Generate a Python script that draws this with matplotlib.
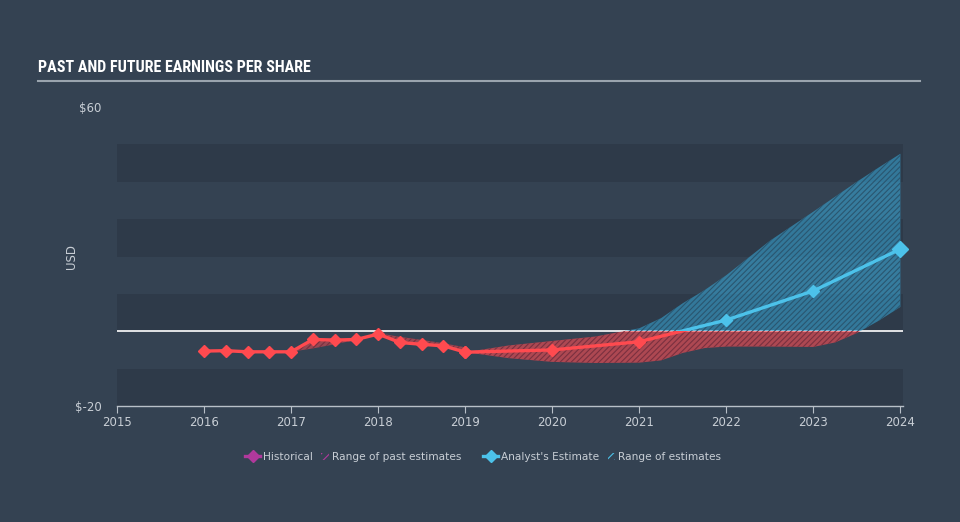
import numpy as np
import matplotlib
matplotlib.use("Agg")
import matplotlib.pyplot as plt
from matplotlib import font_manager
from matplotlib.font_manager import FontProperties
from matplotlib.legend_handler import HandlerPatch
from matplotlib.lines import Line2D
from matplotlib.patches import Patch, Rectangle

# ---------------------------------------------------------------------------
# Data
# ---------------------------------------------------------------------------
hist_x = [2016.0, 2016.25, 2016.5, 2016.75, 2017.0, 2017.25, 2017.5,
          2017.75, 2018.0, 2018.25, 2018.5, 2018.75, 2019.0]
hist_eps = [-5.3, -5.2, -5.5, -5.5, -5.5, -2.2, -2.35,
            -2.2, -0.75, -3.0, -3.5, -3.9, -5.6]

past_rng_x = [2017.0, 2017.25, 2017.5, 2017.75, 2018.0, 2018.25, 2018.5, 2018.75, 2019.0]
past_rng_lo = [-5.5, -4.6, -3.5, -2.3, -0.75, -3.0, -3.5, -3.9, -5.6]
past_rng_hi = [-5.5, -2.2, -2.35, -2.0, -0.5, -1.5, -2.3, -3.2, -4.3]

est_x = [2019.0, 2020.0, 2021.0, 2022.0, 2023.0, 2024.0]
est_eps = [-5.6, -5.0, -2.8, 3.0, 10.8, 22.0]

rng_x = [2019.0, 2019.5, 2020.0, 2020.5, 2021.0, 2021.25, 2021.5, 2021.75,
         2022.0, 2022.5, 2023.0, 2023.25, 2023.5, 2023.75, 2024.0]
rng_lo = [-5.6, -7.2, -8.2, -8.5, -8.4, -7.8, -5.8, -4.5,
          -4.1, -4.1, -4.2, -3.0, -0.5, 2.8, 6.5]
rng_hi = [-5.6, -3.8, -2.6, -1.4, 0.8, 3.5, 7.5, 11.0,
          15.0, 24.2, 32.0, 36.0, 40.0, 43.8, 47.5]

x_ticks = list(range(2015, 2025))
y_ticks = [-20, 60]
y_labels = ["\\$-20", "\\$60"]
bands = [(-20, -10), (0, 10), (20, 30), (40, 50)]

# ---------------------------------------------------------------------------
# Style
# ---------------------------------------------------------------------------
BG = "#344252"
BAND = "#2e3a49"
RED = "#ff4a4f"
BLUE = "#4cc2ea"
MAGENTA = "#b0399c"
TXT = "#c8ced5"


def pick_title_font():
    """Find a condensed bold face if one is installed."""
    tries = [("Liberation Sans Narrow", "normal"), ("Roboto Condensed", "normal"),
             ("DejaVu Sans", "condensed"), ("Open Sans Condensed", "normal")]
    for fam, stretch in tries:
        fp = FontProperties(family=fam, weight="bold", stretch=stretch)
        try:
            path = font_manager.findfont(fp, fallback_to_default=False)
        except Exception:
            continue
        name = path.lower()
        if "narrow" in name or "condensed" in name:
            return FontProperties(fname=path)
    return FontProperties(family="DejaVu Sans", weight="bold")


plt.rcParams["hatch.linewidth"] = 0.8

fig = plt.figure(figsize=(9.6, 5.22), dpi=100, facecolor=BG)
ax = fig.add_axes([117 / 960, 1 - 406 / 522, (903 - 117) / 960, (406 - 107) / 522])
ax.set_facecolor(BG)
ax.set_xlim(2015, 2024.03)
ax.set_ylim(-20, 60)

for lo, hi in bands:
    ax.axhspan(lo, hi, color=BAND, lw=0, zorder=0)

ax.axhline(0, color="white", lw=1.2, zorder=2)

# clip rectangles: above / below zero
above = Rectangle((2000, 0), 50, 100, transform=ax.transData)
below = Rectangle((2000, -100), 50, 100, transform=ax.transData)

# range of past estimates
ax.fill_between(past_rng_x, past_rng_lo, past_rng_hi, facecolor=(1.0, 0.3, 0.32, 0.5),
                edgecolor="#7a3040", hatch="//////", lw=0, zorder=3)

# range of future estimates, coloured by sign
fb = ax.fill_between(rng_x, rng_lo, rng_hi, facecolor=(0.22, 0.64, 0.82, 0.6),
                     edgecolor="#2a5670", hatch="//////", lw=0, zorder=3)
fb.set_clip_path(above)
fr = ax.fill_between(rng_x, rng_lo, rng_hi, facecolor=(1.0, 0.3, 0.32, 0.6),
                     edgecolor="#7a3040", hatch="//////", lw=0, zorder=3)
fr.set_clip_path(below)

# historical line
ax.plot(hist_x, hist_eps, color=RED, lw=2.4, marker="D", ms=6.5, zorder=5)

# analyst estimate, red below zero and blue above
lb, = ax.plot(est_x, est_eps, color=BLUE, lw=2.4, marker="D", ms=6.5, zorder=5)
lb.set_clip_path(above)
lr, = ax.plot(est_x, est_eps, color=RED, lw=2.4, marker="D", ms=6.5, zorder=5)
lr.set_clip_path(below)
ax.plot(est_x[-1:], est_eps[-1:], color=BLUE, marker="D", ms=8.5, lw=0, zorder=6,
        clip_on=False)

# axes cosmetics
for s in ["top", "right", "left"]:
    ax.spines[s].set_visible(False)
ax.spines["bottom"].set_color("#b8c0c8")
ax.spines["bottom"].set_linewidth(1)
ax.set_xticks(x_ticks)
ax.set_xticklabels([str(t) for t in x_ticks])
ax.tick_params(axis="x", colors="#b8c0c8", labelcolor=TXT, labelsize=8.5, length=5, pad=2)
ax.set_yticks(y_ticks)
ax.set_yticklabels(y_labels)
ax.tick_params(axis="y", length=0, labelcolor=TXT, labelsize=8.5, pad=11)
ax.set_ylabel("USD", color=TXT, fontsize=8.5)
ax.yaxis.set_label_coords((78 - 117) / 786, 0.5)

# title and rule
tfp = pick_title_font()
title = fig.text(38 / 960, 1 - 68 / 522, "PAST AND FUTURE EARNINGS PER SHARE",
                 fontproperties=tfp, fontsize=11.5, color="white", va="center", ha="left")
fig.canvas.draw()
tw = title.get_window_extent().width
if tw > 290:
    title.set_fontsize(11.5 * 280 / tw)
fig.add_artist(Line2D([38 / 960, 920 / 960], [1 - 81 / 522, 1 - 81 / 522],
                      transform=fig.transFigure, color="#9aa4ae", lw=1.5))


# legend: small hatched squares drawn at the right end of their key box
def small_square(legend, orig_handle, xdescent, ydescent, width, height, fontsize):
    s = height * 1.0
    return Rectangle((width - s - xdescent, -ydescent), s, s)


hmap = {Patch: HandlerPatch(patch_func=small_square)}
leg_kw = dict(loc="center left", ncol=2, frameon=False, fontsize=7.6, handlelength=1.45,
              handletextpad=0.3, columnspacing=0.0, borderpad=0, borderaxespad=0,
              labelcolor=TXT, handler_map=hmap)

past_handles = [Line2D([], [], color=MAGENTA, lw=2.4, marker="D", ms=6),
                Patch(facecolor="none", edgecolor=MAGENTA, hatch="////", lw=0)]
fut_handles = [Line2D([], [], color=BLUE, lw=2.4, marker="D", ms=6),
               Patch(facecolor="none", edgecolor=BLUE, hatch="////", lw=0)]
leg1 = fig.legend(past_handles, ["Historical", "Range of past estimates"],
                  bbox_to_anchor=(245 / 960, 1 - 457 / 522), **leg_kw)
leg2 = fig.legend(fut_handles, ["Analyst's Estimate", "Range of estimates"],
                  bbox_to_anchor=(483 / 960, 1 - 457 / 522), **leg_kw)

fig.savefig("out.png", dpi=100, facecolor=BG)
